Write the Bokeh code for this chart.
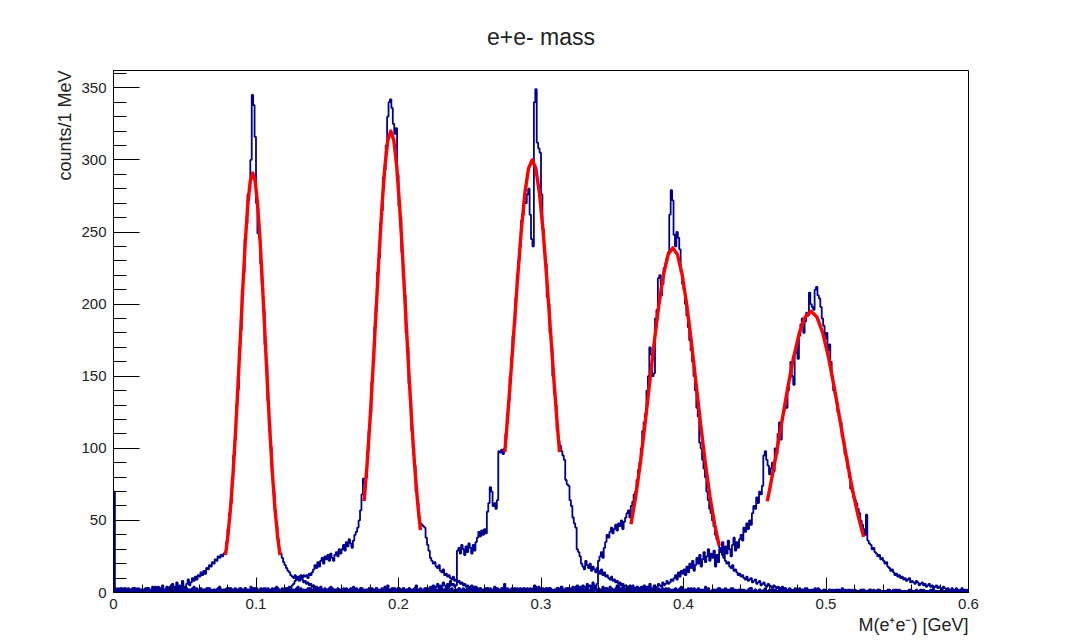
from bokeh.plotting import figure
from bokeh.models import Range1d, FixedTicker, Title
from bokeh.embed import file_html
from bokeh.resources import INLINE

# ---------------- data (counts per 1 MeV bin, 0 .. 0.6 GeV) ----------------
h1_counts = [
    70,1,2,0,1,3,1,0,2,1,1,2,0,1,3,2,1,0,2,1,
    2,1,0,3,1,2,1,2,0,4,1,2,3,1,5,2,1,3,2,4,
    3,6,2,4,7,3,5,2,8,4,3,6,9,5,7,10,8,11,9,12,
    11,14,12,15,13,17,16,19,18,21,20,23,22,25,24,26,25,27,28,35,
    44,55,62,80,95,106,130,141,170,182,210,222,245,256,276,279,300,345,338,316,
    270,249,246,228,214,196,172,158,133,116,101,84,70,57,46,37,30,27,24,21,
    19,17,15,14,12,11,10,12,9,11,8,10,9,7,8,6,7,5,6,4,
    5,3,4,2,3,4,2,1,3,2,0,2,1,3,1,2,0,1,2,1,
    2,1,0,3,1,2,0,1,4,2,1,0,2,3,1,1,0,2,1,3,
    1,2,0,1,3,2,1,0,2,1,4,1,2,0,1,3,1,2,0,2,
    3,1,2,0,1,2,1,3,0,2,1,1,5,2,0,1,2,1,3,1,
    0,2,1,2,3,1,0,2,1,4,2,1,0,1,2,3,1,2,1,0,
    2,1,3,1,0,2,1,2,3,1,1,0,2,4,1,2,0,1,2,1,
    1,3,0,2,1,1,2,0,3,1,2,1,0,2,6,1,2,1,0,2,
    2,0,1,3,2,1,0,2,1,1,3,2,0,1,2,1,4,0,1,2,
    1,2,2,0,1,3,1,2,0,1,2,1,3,0,2,1,1,2,0,3,
    0,1,2,1,4,0,2,1,1,3,0,2,1,2,0,1,3,1,2,1,
    2,1,0,2,1,3,1,0,2,1,2,0,1,5,1,2,1,0,2,1,
    1,0,2,1,2,1,3,0,1,2,1,1,0,2,3,1,0,2,1,2,
    3,1,1,0,2,1,0,2,1,3,1,2,0,1,2,0,1,3,1,0,
    1,2,0,1,1,3,2,0,1,2,0,1,2,1,0,4,1,2,0,1,
    0,1,2,0,3,1,0,2,1,1,2,0,1,3,1,0,2,1,1,2,
    2,0,1,1,0,2,1,3,0,1,2,1,0,2,1,1,0,3,1,0,
    1,2,0,1,2,0,1,1,3,0,2,1,1,0,2,1,0,1,2,1,
    0,1,1,2,0,1,3,0,1,2,1,0,1,1,0,2,1,0,2,1,
    1,0,2,1,0,1,1,0,2,1,0,3,1,0,1,2,0,1,1,0,
    2,1,0,1,1,0,2,1,0,1,2,0,1,1,0,1,2,1,0,1,
    0,1,1,0,2,1,0,1,1,0,1,2,0,1,0,1,1,0,2,1,
    1,0,1,2,0,1,0,1,2,1,0,1,1,0,2,0,1,1,0,1,
    0,1,0,1,1,0,2,1,0,1,0,1,1,0,1,0,1,0,1,0,
]

h2_counts = [
    1,2,0,1,2,3,0,1,2,1,0,2,1,3,1,0,2,1,1,2,
    2,0,1,3,1,0,2,1,2,0,1,4,1,2,0,1,2,3,1,0,
    1,3,2,0,1,2,1,0,3,1,2,1,0,2,1,3,0,1,2,1,
    0,2,1,2,0,1,3,2,1,0,2,1,2,0,3,1,1,2,0,2,
    3,1,0,1,2,1,0,2,1,3,1,0,2,1,2,0,4,1,1,2,
    1,0,2,3,1,2,1,0,2,1,1,3,2,0,1,2,1,1,3,2,
    2,3,2,4,3,5,6,8,10,9,11,12,10,12,11,12,10,13,12,14,
    16,19,17,21,18,22,24,20,25,23,26,22,27,24,22,26,28,25,30,27,
    30,33,29,35,32,37,34,31,36,40,42,45,50,57,68,79,76,80,98,112,
    125,146,160,184,198,222,232,256,265,288,293,310,330,340,342,336,325,318,322,290,
    268,260,236,218,206,180,170,145,133,112,100,88,70,63,52,48,47,46,45,38,
    33,29,24,22,20,21,18,17,19,15,14,16,12,13,11,12,10,9,11,8,
    9,7,8,6,7,5,6,4,5,3,4,5,3,2,4,3,2,3,1,2,
    2,1,3,0,2,1,1,4,2,0,1,2,3,1,0,2,1,2,0,1,
    1,3,0,2,1,2,0,1,3,1,2,0,1,2,1,5,1,0,2,1,
    2,0,1,1,3,0,2,1,0,2,1,3,1,0,2,1,2,1,0,3,
    0,2,1,3,1,2,1,0,2,1,0,1,4,2,1,0,1,2,3,1,
    1,2,0,1,2,1,3,0,1,2,2,0,1,3,0,2,1,1,0,2,
    3,0,2,1,0,1,2,1,3,0,1,2,1,0,2,1,3,0,1,2,
    1,1,0,2,1,3,0,2,1,1,2,0,1,2,0,1,2,1,4,0,
    2,1,1,0,2,1,0,3,1,2,0,1,2,1,1,0,2,1,0,1,
    0,2,1,2,0,1,1,2,0,3,1,0,1,2,1,2,0,1,1,2,
    1,0,2,1,1,0,3,1,0,1,2,1,0,2,1,0,1,2,1,0,
    2,1,0,1,2,1,0,1,2,0,1,3,1,0,1,2,0,1,2,1,
    1,0,1,2,0,1,2,0,1,1,0,2,1,0,3,1,0,1,1,0,
    0,1,2,0,1,0,1,2,0,1,1,0,2,1,0,1,2,0,1,1,
    1,0,1,1,0,2,0,1,1,0,2,1,0,1,1,0,1,2,0,1,
    0,1,0,2,1,0,1,0,1,2,0,1,1,0,1,1,0,1,0,2,
    1,1,0,1,0,1,2,0,1,0,1,1,0,2,0,1,0,1,1,0,
    0,1,1,0,1,0,1,1,0,1,0,2,0,1,0,1,1,0,1,0,
]

h3_counts = [
    2,0,1,3,1,2,0,1,2,1,3,0,2,1,1,2,0,3,1,2,
    1,2,3,0,1,2,1,4,0,2,1,1,3,2,0,1,2,1,0,3,
    0,1,2,1,3,0,2,1,1,2,0,3,1,2,1,0,2,1,3,1,
    2,3,1,0,2,1,1,3,0,1,2,1,2,0,4,1,2,1,0,2,
    1,0,2,2,1,3,0,1,2,1,1,0,3,1,2,0,1,2,1,3,
    3,1,0,1,2,0,2,1,3,1,0,2,1,1,2,3,0,1,2,1,
    0,2,1,3,1,2,1,0,2,4,1,1,2,0,1,2,3,1,0,2,
    2,1,2,0,1,3,1,2,0,1,2,1,0,3,1,2,1,0,2,1,
    1,3,0,2,1,1,2,0,1,2,3,1,0,2,1,1,0,2,1,3,
    0,1,2,1,3,0,1,2,1,0,2,1,5,1,0,2,1,3,1,0,
    2,1,1,3,0,2,1,0,2,1,1,3,0,2,1,2,0,1,2,1,
    3,2,4,3,5,2,4,6,3,5,4,7,5,3,6,4,8,5,6,4,
    5,29,31,27,33,30,26,32,28,34,31,27,33,29,35,38,42,39,43,40,
    44,41,56,62,73,70,60,62,58,64,98,97,99,96,100,110,124,133,150,163,
    178,186,204,220,230,240,258,262,272,270,276,280,262,245,240,340,349,312,308,305,
    276,252,236,228,205,200,180,170,150,138,130,112,105,102,98,95,92,78,75,74,
    64,60,52,48,45,30,28,25,20,18,16,22,19,17,20,15,18,16,14,17,
    15,13,16,12,14,11,12,10,9,11,8,9,7,8,6,7,5,6,4,5,
    4,3,5,2,4,3,2,4,1,3,2,3,1,2,4,2,1,3,2,1,
    2,1,3,1,2,0,2,3,1,2,1,0,2,1,3,1,2,0,1,2,
    1,2,0,3,1,2,1,0,2,1,3,1,0,2,1,2,1,3,0,1,
    2,0,1,2,1,3,0,1,2,0,1,2,1,0,3,1,1,0,2,1,
    0,2,1,1,0,2,1,3,0,1,2,0,1,2,1,0,2,1,1,0,
    1,1,0,2,1,0,1,2,1,0,2,1,0,1,1,2,0,1,0,2,
    2,0,1,0,1,2,0,1,1,0,1,0,2,1,0,1,1,0,2,0,
    0,1,1,0,2,0,1,0,1,1,0,2,0,1,1,0,1,1,0,1,
    1,0,0,1,1,0,2,0,1,0,1,1,0,2,0,1,0,1,1,0,
    0,1,1,0,0,1,0,1,2,0,1,0,1,0,1,1,0,0,1,1,
    1,0,1,0,1,0,1,1,0,1,0,1,0,1,0,2,0,1,0,1,
    0,1,0,1,0,1,0,0,1,1,0,1,0,0,1,0,1,0,1,0,
]

h4_counts = [
    1,3,0,2,1,2,1,0,3,1,2,0,1,2,1,3,0,1,2,1,
    2,1,2,0,3,1,0,2,1,2,1,3,0,1,2,0,1,4,1,2,
    0,2,1,3,1,0,2,1,2,0,3,1,1,2,0,1,3,2,1,0,
    1,2,0,1,2,3,1,0,2,1,1,2,0,3,1,2,0,1,2,3,
    2,0,3,1,0,2,1,2,1,0,2,1,3,0,1,1,2,0,3,1,
    1,1,2,0,2,1,3,1,0,2,1,0,2,1,4,0,1,2,1,2,
    3,0,1,2,1,0,2,1,3,1,0,2,1,2,0,1,2,3,0,1,
    0,2,1,1,3,2,0,1,2,0,1,3,2,1,0,2,1,1,2,0,
    2,1,0,2,1,1,3,0,1,2,2,0,1,3,1,0,2,1,0,2,
    1,3,2,0,1,2,0,1,3,1,0,2,1,1,2,0,3,1,2,1,
    0,1,2,3,0,1,2,1,0,2,1,3,1,0,2,1,1,2,0,3,
    2,0,1,1,2,4,1,0,2,1,3,0,2,1,0,2,1,3,1,0,
    1,2,3,0,1,2,1,2,0,1,2,1,0,3,2,1,0,2,1,2,
    0,1,2,1,3,0,2,1,1,2,0,1,3,1,0,2,1,2,1,3,
    2,3,1,0,2,1,0,3,2,1,2,0,1,2,3,1,2,0,4,2,
    1,2,0,3,2,1,3,2,0,2,1,3,2,1,4,2,1,3,2,3,
    3,2,4,3,2,5,3,4,2,5,4,3,6,4,5,3,7,5,4,6,
    22,25,28,24,31,35,40,38,42,45,41,44,47,43,48,46,50,44,49,52,
    55,57,52,60,63,68,70,78,85,90,100,112,118,124,140,150,170,165,150,152,
    190,196,218,220,206,214,225,228,232,236,262,279,272,248,240,250,246,238,222,214,
    210,200,192,184,175,168,160,150,140,128,122,104,100,92,86,80,70,64,58,55,
    50,46,40,37,34,31,28,26,24,22,20,21,18,17,19,15,16,14,12,13,
    11,12,10,9,11,8,9,10,7,8,9,6,7,8,5,6,7,5,4,6,
    5,4,3,5,4,3,4,2,3,4,2,3,1,2,3,2,1,2,3,1,
    2,3,1,2,0,3,1,2,1,0,2,1,3,1,0,2,1,1,0,2,
    1,0,2,1,1,0,2,1,0,2,1,0,1,2,0,1,1,0,2,1,
    0,1,1,0,2,1,0,1,1,0,1,2,0,1,0,1,2,0,1,0,
    1,0,1,1,0,1,0,2,0,1,1,0,1,0,1,0,1,1,0,1,
    0,1,0,1,1,0,1,0,1,0,1,1,0,1,0,1,0,0,1,1,
    1,0,1,0,0,1,1,0,1,0,0,1,0,1,1,0,0,1,0,0,
]

h5_counts = [
    3,1,2,0,1,2,1,3,0,2,1,1,2,0,3,1,2,1,0,2,
    1,0,2,1,3,1,0,2,1,1,3,0,2,1,2,0,1,3,1,2,
    2,1,0,3,1,2,1,0,2,3,1,2,0,1,2,1,4,0,2,1,
    0,2,1,2,0,1,3,2,1,0,2,1,1,3,0,2,1,2,1,0,
    1,3,2,1,2,0,1,2,3,1,0,2,1,2,1,0,2,3,1,2,
    2,0,1,2,1,3,0,1,2,1,2,1,0,3,1,2,1,0,2,1,
    1,2,3,0,2,1,2,1,0,2,1,3,1,2,0,1,2,1,3,0,
    0,1,2,1,3,0,1,2,1,0,2,1,4,1,2,0,1,3,0,2,
    2,1,0,2,1,2,1,3,0,1,2,1,0,2,3,1,1,0,2,1,
    1,2,1,0,3,1,2,0,1,2,1,1,3,0,2,1,0,2,1,3,
    3,0,2,1,1,2,0,3,1,1,2,0,1,2,1,3,1,0,2,1,
    1,2,0,3,1,0,2,1,2,1,0,2,1,3,0,1,2,1,1,2,
    0,1,2,1,2,3,1,0,2,1,3,1,2,0,1,2,0,3,1,1,
    2,1,3,0,1,2,1,2,0,3,1,2,1,1,0,2,3,1,2,0,
    1,2,1,2,0,3,2,1,1,2,0,1,3,2,1,0,2,1,2,3,
    2,3,1,0,2,1,3,2,1,0,2,3,1,2,4,1,2,0,3,1,
    1,2,3,2,1,4,2,1,3,2,0,2,3,1,2,3,1,4,2,1,
    3,2,1,4,2,3,1,2,4,3,2,1,3,2,5,3,2,4,3,2,
    2,4,3,2,5,3,2,4,3,1,4,3,5,2,3,4,6,3,2,5,
    3,4,6,5,4,7,5,6,8,6,7,9,8,10,12,9,14,11,15,13,
    16,12,18,14,20,17,22,15,19,24,20,26,18,23,28,21,25,30,22,27,
    24,29,18,26,21,30,28,35,24,32,27,36,30,25,33,38,29,35,31,37,
    40,36,45,42,48,44,50,47,55,60,58,66,62,70,68,74,95,98,92,88,
    82,86,90,84,100,96,110,118,106,122,126,130,128,140,148,160,150,144,166,170,
    162,178,186,190,180,188,194,192,208,200,198,196,210,212,206,204,198,190,185,176,
    180,168,172,160,150,140,138,132,125,122,118,108,104,96,94,86,80,72,70,66,
    64,62,58,55,50,47,44,40,54,36,34,33,30,31,28,27,25,26,23,24,
    22,20,21,18,17,15,16,14,12,13,11,12,10,11,9,10,8,9,10,7,
    8,7,6,8,7,5,6,7,5,6,4,5,6,4,5,3,4,5,3,4,
    3,2,4,3,2,3,1,2,3,2,1,3,2,1,2,3,1,2,1,2,
]

# Gaussian fit curves (x in MeV, y in counts/1 MeV)
fit1_x = [78.56,80.30,82.04,83.78,85.52,87.26,89.00,90.74,92.48,94.22,95.96,97.70,
          99.44,101.18,102.92,104.66,106.40,108.14,109.88,111.62,113.36,115.10,116.84]
fit1_y = [25.9,39.4,57.6,80.9,109.2,141.7,176.5,211.3,243.1,268.6,285.2,291.0,
          285.2,268.6,243.1,211.3,176.5,141.7,109.2,80.9,57.6,39.4,25.9]
fit2_x = [175.88,177.96,180.04,182.12,184.20,186.28,188.36,190.44,192.52,194.60,
          196.68,198.76,200.84,202.92,205.00,207.08,209.16,211.24,213.32,215.40]
fit2_y = [63.3,89.0,120.1,155.8,194.1,232.4,267.3,295.4,313.7,320.0,
          313.7,295.4,267.3,232.4,194.1,155.8,120.1,89.0,63.3,43.3]
fit3_x = [274.60,275.88,278.44,281.00,283.56,286.12,288.68,291.24,293.80,
          296.36,298.92,301.48,304.04,306.60,309.16,311.72,313.00]
fit3_y = [97.4,112.6,146.0,182.0,217.8,250.6,276.9,294.1,300.0,
          294.1,276.9,250.6,217.8,182.0,146.0,112.6,97.4]
fit4_x = [363.16,366.42,369.68,372.94,376.20,379.46,382.72,385.98,389.24,392.50,
          395.76,399.02,402.28,405.54,408.80,412.06,415.32,418.58,421.84,425.10]
fit4_y = [47.3,66.4,89.7,116.3,145.0,173.5,199.6,220.6,234.3,239.0,
          234.3,220.6,199.6,173.5,145.0,116.3,89.7,66.4,47.3,32.3]
fit5_x = [458.75,460.80,464.90,469.00,473.10,477.20,481.30,485.40,489.50,
          493.60,497.70,501.80,505.90,510.00,514.10,518.20,522.30,526.40]
fit5_y = [63.3,73.2,94.9,118.3,141.6,162.9,180.0,191.1,195.0,
          191.1,180.0,162.9,141.6,118.3,94.9,73.2,54.2,38.6]

x_ticks = [0, 0.1, 0.2, 0.3, 0.4, 0.5, 0.6]
x_tick_labels = ["0", "0.1", "0.2", "0.3", "0.4", "0.5", "0.6"]
y_ticks = [0, 50, 100, 150, 200, 250, 300, 350]

TITLE = "e+e- mass"
X_TITLE = "M(e\u207ae\u207b) [GeV]"
Y_TITLE = "counts/1 MeV"

# ---------------- figure ----------------
X_MIN, X_MAX, NBINS = 0.0, 0.6, 600
BIN_W = (X_MAX - X_MIN) / NBINS

for h in (h1_counts, h2_counts, h3_counts, h4_counts, h5_counts):
    assert len(h) == NBINS, len(h)

FONT = "Liberation Sans"
BLUE = "#00008f"

p = figure(width=1071, height=644, x_range=Range1d(X_MIN, X_MAX), y_range=Range1d(0, 362),
           output_backend="svg", toolbar_location=None,
           min_border_left=113, min_border_right=103, min_border_top=70, min_border_bottom=52)

p.background_fill_color = "white"
p.border_fill_color = "white"
p.outline_line_color = "black"
p.outline_line_width = 1
p.xgrid.visible = False
p.ygrid.visible = False


def outline(counts):
    xs, ys = [X_MIN], [0]
    for i, c in enumerate(counts):
        x0 = X_MIN + i * BIN_W
        xs += [x0, x0 + BIN_W]
        ys += [c, c]
    xs.append(X_MIN + len(counts) * BIN_W)
    ys.append(0)
    return xs, ys


for h in (h1_counts, h2_counts, h3_counts, h4_counts, h5_counts):
    xs, ys = outline(h)
    p.line(xs, ys, line_color=BLUE, line_width=1.8)

for fx, fy in ((fit1_x, fit1_y), (fit2_x, fit2_y), (fit3_x, fit3_y), (fit4_x, fit4_y), (fit5_x, fit5_y)):
    p.line([v / 1000.0 for v in fx], fy, line_color="#ff0000", line_width=3.4, line_join="round")

# axes
x_minor = [round(i * 0.02, 2) for i in range(31)]
y_minor = list(range(0, 361, 10))
p.xaxis.ticker = FixedTicker(ticks=x_ticks, minor_ticks=x_minor)
p.yaxis.ticker = FixedTicker(ticks=y_ticks, minor_ticks=y_minor)
p.xaxis.major_label_overrides = {t: l for t, l in zip(x_ticks, x_tick_labels)}

for ax in (p.xaxis, p.yaxis):
    ax.axis_line_color = "black"
    ax.major_tick_line_color = "black"
    ax.minor_tick_line_color = "black"
    ax.major_tick_out = 0
    ax.minor_tick_out = 0
    ax.major_label_text_font = FONT
    ax.major_label_text_font_size = "15px"
    ax.major_label_text_color = "#222222"

p.xaxis.major_tick_in = 15
p.xaxis.minor_tick_in = 8
p.yaxis.major_tick_in = 26
p.yaxis.minor_tick_in = 13
p.xaxis.major_label_standoff = 6
p.yaxis.major_label_standoff = 7

# titles
p.title.text = TITLE
p.title.align = "center"
p.title.text_font = FONT
p.title.text_font_style = "normal"
p.title.text_font_size = "23px"
p.title.text_color = "#222222"
p.title.standoff = 42

p.add_layout(Title(text=X_TITLE, align="right", text_font=FONT, text_font_style="normal",
                   text_font_size="18px", text_color="#222222", standoff=2), "below")
p.add_layout(Title(text=Y_TITLE, align="right", text_font=FONT, text_font_style="normal",
                   text_font_size="18px", text_color="#222222", standoff=8), "left")

open("out.html", "w").write(file_html(p, INLINE))
